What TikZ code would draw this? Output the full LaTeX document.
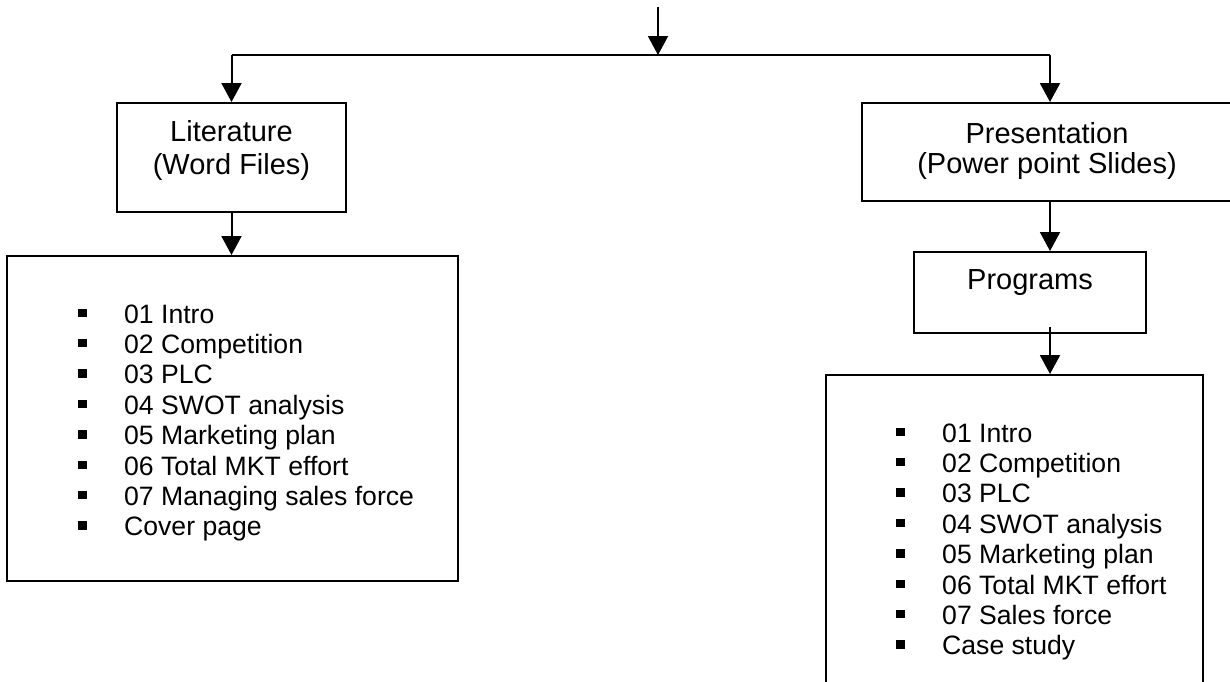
\documentclass[tikz,border=0pt]{standalone}
\usepackage{fontspec}
\setmainfont{Liberation Sans}
\usetikzlibrary{arrows.meta,calc}
\newcommand\sqitem[1]{\hbox{\rlap{\rule[6pt]{8.5pt}{8.5pt}}\hspace*{46pt}#1}}
\tikzset{
  box/.style={draw=black, line width=2pt, rectangle, inner sep=0pt},
  ttl/.style={font=\fontsize{29}{31}\selectfont, inner sep=0pt, anchor=base},
  lst/.style={font=\fontsize{26.6}{30.4}\selectfont, inner sep=0pt, anchor=base west},
  arr/.style={line width=2pt, -{Triangle[width=20pt,length=19pt]}},
}
\begin{document}
\begin{tikzpicture}[x=1pt,y=-1pt]
\useasboundingbox (0,0) rectangle (1230,681);
% boxes
\node[box, minimum width=229pt, minimum height=109pt] (lit) at (231.5,157.5) {};
\node[box, minimum width=376pt, minimum height=98pt] (pres) at (1050,152) {};
\node[box, minimum width=232pt, minimum height=81pt] (prog) at (1030,292.5) {};
\node[box, minimum width=451pt, minimum height=325pt] (litlist) at (232.5,418.5) {};
\node[box, minimum width=377pt, minimum height=345pt] (preslist) at (1014.5,547.5) {};
% titles
\node[ttl] (litA) at (231.5,141.7) {Literature};
\node[ttl] (litB) at (231.5,174) {(Word Files)};
\node[ttl] (presA) at (1047,143.3) {Presentation};
\node[ttl] (presB) at (1047,173.5) {(Power point Slides)};
\node[ttl] (progA) at (1030,289) {Programs};
% lists
\node[lst] (litItems) at (78,323) {\vtop{\baselineskip=30.4pt
  \sqitem{01 Intro}
  \sqitem{02 Competition}
  \sqitem{03 PLC}
  \sqitem{04 SWOT analysis}
  \sqitem{05 Marketing plan}
  \sqitem{06 Total MKT effort}
  \sqitem{07 Managing sales force}
  \sqitem{Cover page}}};
\node[lst] (presItems) at (896,442) {\vtop{\baselineskip=30.4pt
  \sqitem{01 Intro}
  \sqitem{02 Competition}
  \sqitem{03 PLC}
  \sqitem{04 SWOT analysis}
  \sqitem{05 Marketing plan}
  \sqitem{06 Total MKT effort}
  \sqitem{07 Sales force}
  \sqitem{Case study}}};
% connectors
\coordinate (top) at (658,7);
\coordinate (hub) at (658,55);
\draw[arr] (top) -- (hub);
\draw[line width=2pt] (hub) -- (hub -| lit.north);
\draw[line width=2pt] (hub) -- (hub -| pres.north);
\draw[arr] (hub -| lit.north) -- (lit.north);
\draw[arr] (hub -| pres.north) -- (pres.north);
\draw[arr] (lit.south) -- (lit.south |- litlist.north);
\draw[arr] (pres.south) -- (pres.south |- prog.north);
\draw[arr] ($(pres.south |- prog.south)+(0,-7)$) -- (pres.south |- preslist.north);
\end{tikzpicture}
\end{document}
